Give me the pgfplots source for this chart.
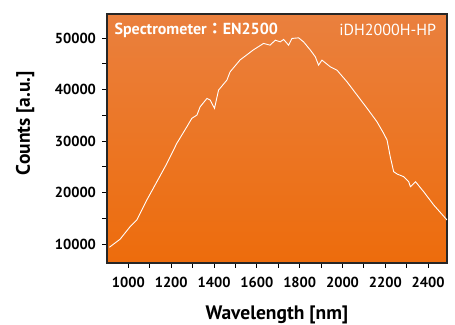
\documentclass[border=0pt]{standalone}
\usepackage{pgfplots}
\pgfplotsset{compat=1.18}
\usepackage{fontspec}
\setmainfont{PT Sans}
\newfontfamily\cjk{Noto Sans CJK JP Medium}
\definecolor{bgtop}{RGB}{234,128,62}
\definecolor{bgbot}{RGB}{237,108,12}
\begin{document}
\begin{tikzpicture}
\useasboundingbox (-107pt,-61pt) rectangle (348pt,263pt);
\begin{axis}[
  scale only axis,
  width=340pt, height=249pt,
  xmin=900, xmax=2488,
  ymin=6300, ymax=54700,
  xtick={1000,1200,...,2400},
  ytick={10000,20000,...,50000},
  minor x tick num=1,
  minor y tick num=1,
  tick align=outside,
  tick pos=left,
  major tick length=4.5pt,
  minor tick length=4.5pt,
  every tick/.style={black, line width=0.9pt},
  axis line style={black!85, line width=1.1pt},
  axis background/.style={top color=bgtop, bottom color=bgbot},
  scaled ticks=false,
  /pgf/number format/assume math mode=true,
  xticklabel={\pgfmathprintnumber[1000 sep={}]{\tick}},
  yticklabel={\pgfmathprintnumber[1000 sep={}]{\tick}},
  tick label style={font=\bfseries\fontsize{14.5}{17}\selectfont},
  xticklabel style={yshift=-6pt},
  yticklabel style={xshift=-3pt},
  xlabel={Wavelength [nm]},
  ylabel={Counts [a.u.]},
  label style={font=\bfseries\fontsize{19.5}{22}\selectfont},
  xlabel style={at={(axis description cs:0.5,0)}, anchor=center, yshift=-52pt},
  ylabel style={at={(axis description cs:-0.241,0.562)}, anchor=center},
  clip=true,
]
\addplot[white, line width=0.9pt] coordinates {
(911,9359) (961,10913) (1008,13360) (1039,14661) (1086,18545) (1133,22099)
(1180,25672) (1226,29556) (1273,32779) (1296,34411) (1320,35052) (1335,36663)
(1367,38295) (1382,37965) (1402,36353) (1421,39907) (1460,41849) (1475,43460)
(1522,45791) (1584,47733) (1631,48976) (1662,48646) (1686,49617) (1709,49287)
(1725,49753) (1748,48646) (1764,49947) (1795,50064) (1818,49287) (1849,47733)
(1873,46374) (1888,44762) (1904,45733) (1943,44432) (1974,43790) (2021,41518)
(2068,38936) (2115,36353) (2161,33751) (2192,31498) (2208,30197) (2223,26953)
(2239,24041) (2255,23594) (2286,23070) (2309,22099) (2317,21128) (2341,22099)
(2379,20157) (2426,17574) (2488,14661)
};
\node[anchor=west, white, font=\bfseries\fontsize{16}{18}\selectfont] at (rel axis cs:0.012,0.935) {Spectrometer{\cjk ：}EN2500};
\node[anchor=east, white, font=\fontsize{16}{18}\selectfont] at (rel axis cs:0.978,0.935) {iDH2000H-HP};
\end{axis}
\end{tikzpicture}
\end{document}
